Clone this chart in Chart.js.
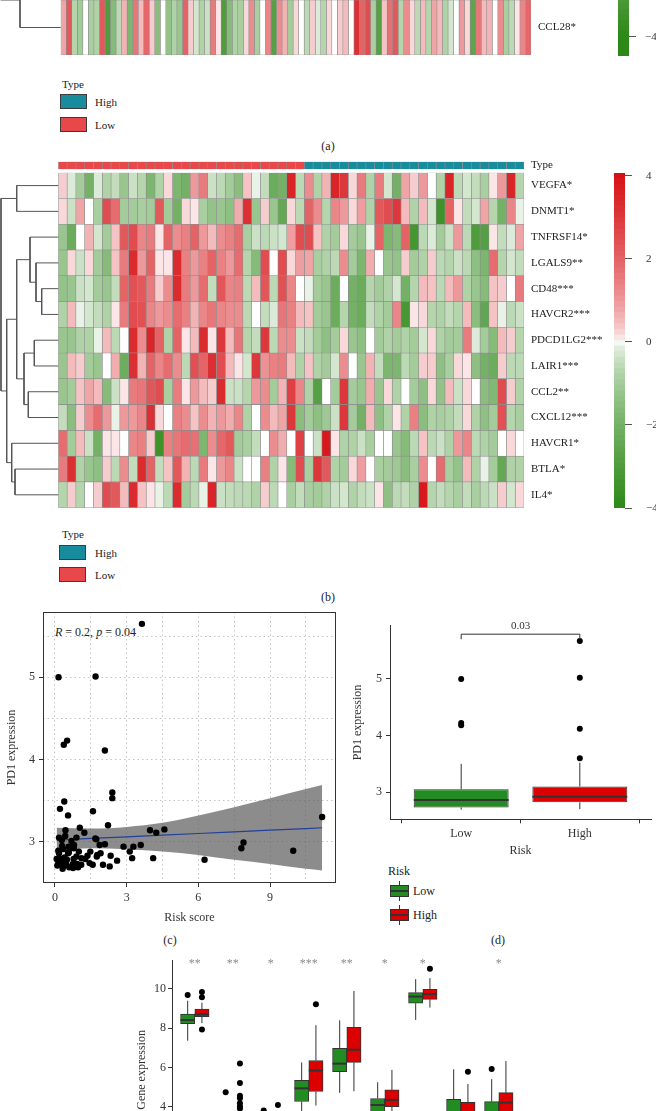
<!DOCTYPE html>
<html>
<head>
<meta charset="utf-8">
<script src="https://cdn.jsdelivr.net/npm/chart.js@4.4.0/dist/chart.umd.min.js"></script>
<style>
body{margin:0;width:656px;height:1111px;overflow:hidden;background:#fff;position:relative;font-family:'Liberation Serif','DejaVu Serif',serif;color:#222}
canvas{position:absolute}
.t{position:absolute;white-space:nowrap;font-size:11px;line-height:1;transform:translateY(-50%)}
.c{position:absolute;white-space:nowrap;font-size:12px;line-height:1;transform:translate(-50%,-50%)}
.key{position:absolute;box-sizing:border-box;border:1px solid #3c3c3c}
.ln{position:absolute;background:#333}
</style>
</head>
<body>

<!-- (a) legend -->
<div class="t" style="left:62px;top:84px">Type</div>
<div class="key" style="left:60px;top:94px;width:27px;height:15px;background:#188b9c"></div>
<div class="t" style="left:95px;top:102px">High</div>
<div class="key" style="left:60px;top:117px;width:27px;height:15px;background:#e84849"></div>
<div class="t" style="left:95px;top:125px">Low</div>
<div class="c" style="left:328px;top:146px">(a)</div>

<!-- (b) legend -->
<div class="t" style="left:62px;top:534px">Type</div>
<div class="key" style="left:59px;top:545px;width:27px;height:15px;background:#188b9c"></div>
<div class="t" style="left:95px;top:553px">High</div>
<div class="key" style="left:59px;top:567px;width:27px;height:15px;background:#e84849"></div>
<div class="t" style="left:95px;top:575px">Low</div>
<div class="c" style="left:328px;top:597px">(b)</div>

<div class="t" style="left:55px;top:632px;font-size:12px"><i>R</i> = 0.2, <i>p</i> = 0.04</div>

<!-- (d) legend -->
<div class="t" style="left:388px;top:871px;font-size:12px">Risk</div>
<div class="ln" style="left:399px;top:881px;width:1px;height:20px"></div>
<div class="key" style="left:390px;top:885px;width:19px;height:12px;background:#228b22;border-color:#333"></div>
<div class="ln" style="left:390px;top:890px;width:19px;height:2px"></div>
<div class="t" style="left:413px;top:891px;font-size:12px">Low</div>
<div class="ln" style="left:399px;top:905px;width:1px;height:20px"></div>
<div class="key" style="left:390px;top:909px;width:19px;height:12px;background:#dd0000;border-color:#333"></div>
<div class="ln" style="left:390px;top:914px;width:19px;height:2px"></div>
<div class="t" style="left:413px;top:915px;font-size:12px">High</div>

<div class="c" style="left:170px;top:940px">(c)</div>
<div class="c" style="left:498px;top:940px">(d)</div>

<script>
// ---------- data ----------
// panel (a): one visible row
const ccl28 = [0.8,2.2,-0.7,-1,0,-0.9,-0.8,2.2,-3,-1.6,-0.6,0.6,-1.8,1.6,0.5,1.9,0.3,-1.5,0,-1.3,-0.8,-1.2,2,0.3,-0.3,-0.8,-0.4,1.5,0.1,-3,-1.6,-0.8,
  -0.9,0.2,1.2,-0.9,0,1.3,-2.8,1.2,0.6,-1,0.2,0,-0.6,0.3,-0.2,-0.7,0.2,0,0.3,0.5,0,3.2,2,2.5,-0.9,-2.8,0.4,1.7,2.2,-0.7,1.2,0.2,-0.6,0.5,-0.7,
  0.8,0.5,-0.8,-0.3,0,1,0.2,-2.6,1.6,0.5,0.6,0,1.2,-0.9,-0.6,0.1,1.3,1.9];

// panel (b): 13 genes x 53 samples (28 low risk, 25 high risk)
const geneLabels = ['VEGFA*','DNMT1*','TNFRSF14*','LGALS9**','CD48***','HAVCR2***','PDCD1LG2***','LAIR1***','CCL2**','CXCL12***','HAVCR1*','BTLA*','IL4*'];
const sampleType = Array(28).fill('Low').concat(Array(25).fill('High'));
const VEGFA = [0.3,-0.2,-1,-2,-0.2,-0.8,-0.5,-1.2,-0.4,-0.7,-1.8,-0.8,0.2,-1.8,-2,1,1.5,-0.4,-0.6,-1,-1.5,0.4,-0.1,-0.5,-2.2,-2,3.5,-0.6,
  1.2,-0.8,0.6,3.5,3.0,0.2,1.5,-0.8,1.5,-0.3,-2,0.8,0.3,1.0,0,-0.8,3.5,-0.6,-0.3,-0.5,-0.9,0.1,1,3.5,-0.7];
const DNMT1 = [0.2,-0.4,0.8,0,-0.9,2.5,1.8,-1,-1,-0.9,-1,2.2,-1,-2,0.2,0.1,-0.9,-1.3,-1.2,-1.4,0.7,3.2,-1.2,0.3,-1.2,-2.4,0.2,-0.6,
  2,1.2,-0.7,1.3,1,0.2,0.9,-0.8,2.2,2.5,3,0.5,-0.8,0.5,-0.3,-3.5,2,0.1,-0.5,-0.3,0.8,-0.7,-2,1.3,-0.1];
const TNFRSF14 = [-1.2,-2.2,0,0.6,-0.3,-1,0.4,2.2,2.5,1.3,1.5,0.1,2,1.2,1.4,2,1,0.5,1.2,1.4,1.8,-0.9,-0.4,-0.6,-0.4,-0.3,0.9,2.5,
  2.5,0.4,-0.8,-1,0.2,-1,-1.2,-0.1,2,-1.8,-1.6,2,-3.3,-0.6,-0.2,-1,-0.4,1,-0.6,-3,-2.8,0.1,-0.5,-0.2,0.8];
const LGALS9 = [-1.2,0.2,-0.4,0.2,-1,-1.6,0.4,1.5,3.3,1,2,0.1,0.1,3.3,1.4,1,1.4,2,1.4,1,1.8,-0.7,-1.6,2.5,0,2.5,0.2,0.9,
  0.8,-0.9,-0.8,-0.6,1.2,-1,-1.8,0.7,0,-1.2,-1.3,0.3,-1,-0.8,0.3,-0.6,-0.7,-0.4,-0.6,-1.4,-1.8,1.8,-0.7,-0.3,-0.5];
const CD48 = [-1.3,-1.2,-0.4,-0.3,-1,-1.2,-0.5,2,2.4,2.2,1.5,0.3,1.2,3.3,1.5,1,1.8,-0.5,2.3,1.3,1.4,-0.6,0.5,2.3,-0.6,2.4,1.3,0,
  -0.1,-1,-1.2,-2.2,0,-2,-2.2,-0.7,-1,-0.8,-0.3,-2,-0.7,0.5,0.4,-0.6,0.5,1,-0.8,-1.2,-1.6,0.4,0.3,0,1.5];
const HAVCR2 = [-0.8,0.5,-0.1,-0.3,-0.5,-0.8,0.1,1.5,2.5,2.4,1.3,1,1.2,1.8,1.4,0.6,1.3,1.6,1.3,1.2,1.2,-0.6,0,-0.5,-0.2,1.6,1.4,0.5,
  0.4,-1,-1.2,-2.2,-0.7,-2,-2.2,-0.5,-0.8,-1,1.3,-3.2,0.1,0.2,-0.7,-0.8,-0.5,-0.7,0.5,-1.5,-2.5,0.4,-0.1,-0.6,-0.4];
const PDCD1LG2 = [-1.2,-1.2,-0.8,-0.8,-0.1,0.5,-0.6,0,3.3,1.2,3.5,2,-0.8,2,0.1,0.5,3.3,0.1,3,0.5,1.6,-0.7,-0.5,3,-0.6,1.2,1.2,-0.4,
  -0.5,-1,-1.4,-1,0.2,-1.2,-1.4,0,-1,-0.8,-1,-0.8,-1,-0.3,0.2,-0.8,-1,-1,1.5,-0.2,-1,-1.6,0.5,0.3,-0.7];
const LAIR1 = [-1.2,0.5,0.3,-1,-1.2,0,0.7,-2.2,3.2,0.6,2,1.3,1.8,1.2,-0.6,2.4,2,3.2,2.5,0.5,0.1,-0.3,3,1.1,1.4,1.5,0.5,-0.8,
  0.4,-0.8,-1,-0.3,1.2,0,-1.2,0.6,-0.5,-1.8,-1.8,-0.6,-1,0.3,0.3,-1.4,-0.9,0.2,0.1,-1.4,-2,-2.2,0.3,-0.6,-0.6];
const CCL2 = [-1.2,-1,0.4,0.8,0.5,-1.6,-0.4,0.1,1.5,1.6,2.3,2.5,-0.9,1.5,0.1,1,0.5,0.3,3.3,-0.4,-0.4,-0.7,1,1.2,-1,0.6,2.8,1.3,
  -0.8,-2.8,0,-1,3,-1,-1.2,0.7,-1.2,0.2,-0.8,0,-1,-1.4,0.2,-1.3,0.5,-0.4,0.2,0,-1.5,-1.7,2.5,0.3,-0.8];
const CXCL12 = [-0.5,-1.5,0.3,1.2,1.8,1,-0.1,1,1,1.3,3.2,0.2,0,1.4,1.2,0.4,1.2,0.6,1,0.7,1.3,-0.8,0,1.2,0.5,0.8,3,-1.5,
  -1,-1.4,-1.1,-0.4,3,-1,-2,0.5,-1.4,-0.8,0.1,-0.8,1.4,-1.5,-0.8,-0.9,-0.8,-0.5,0.2,-0.8,-1.4,-1,2.4,-0.7,-0.9];
const HAVCR1 = [1.8,-1,0.5,-0.4,-2,0.1,0.1,0,1.3,1.4,0.3,-3.5,1.4,1.6,1.8,1.7,-1.8,1.2,1.9,2.2,-1,-0.9,-0.5,0,1.2,0.7,0,2.8,
  0,-0.4,3.8,0.1,-0.8,-0.8,-0.4,-0.9,0,0,-1.2,-1.6,-0.6,0.4,-0.6,-0.4,-0.8,1,1.3,-0.6,-0.8,-1,0,0.2,0];
const BTLA = [1.5,3.2,-0.8,-1.2,-1.4,0.3,-0.6,1.2,-0.5,3.3,2,-0.5,0.4,2.2,0.6,-0.6,1.5,0.1,1,1.3,-0.4,0,0,1.4,-0.8,0.1,-1.6,2.5,
  -0.9,3,2.2,-0.8,-1,0.2,0.9,0,-0.9,-1,-1.1,-1.5,-0.9,1.2,0,1.8,-0.9,-1.3,0.5,-0.8,-0.1,-1,-2.4,-0.8,-0.8];
const IL4 = [-0.7,0.3,-0.7,0,0.3,2.5,2.2,0.5,3.3,0.4,0.1,-0.1,-0.6,3.3,-1,-0.6,-0.1,3.5,-0.4,-0.5,-0.6,-0.6,-0.8,0.3,-0.6,0,-0.9,-0.5,
  -0.9,-1,-0.8,-0.4,-0.3,-0.8,-0.5,-0.4,0.1,-1.4,-0.6,-0.5,-0.8,3.8,-0.7,-0.5,-0.7,-0.9,-0.5,-0.9,-0.6,-0.4,0.3,-0.3,0.2];
const heatRows = [VEGFA,DNMT1,TNFRSF14,LGALS9,CD48,HAVCR2,PDCD1LG2,LAIR1,CCL2,CXCL12,HAVCR1,BTLA,IL4];

// row clustering (merge heights), leaves are row indices
const treeB = {h:57.3, c:[{h:41.6, c:[0,1]},
  {h:51.6, c:[{h:41.6, c:[{h:28.3, c:[2,{h:22.3, c:[3,{h:16.6, c:[4,5]}]}]},
                          {h:34.3, c:[{h:24, c:[6,7]},{h:30, c:[8,9]}]}]},
              {h:46.6, c:[10,{h:43.3, c:[11,12]}]}]}]};
const treeA = {h:60, c:[-3,{h:40.7, c:[-1,0]}]};
const colorTicks = [-4,-2,0,2,4];

// panel (c)
const riskScore = [3.64,0.15,1.70,0.37,0.51,2.09,2.40,2.40,0.39,0.21,1.59,0.55,2.22,1.04,0.44,1.23,3.98,4.24,4.58,11.18,
  0.17,0.43,0.90,0.69,1.69,1.73,0.29,0.80,0.57,1.87,2.09,2.87,3.28,3.59,7.89,7.80,9.97,0.35,0.14,0.17,
  0.58,0.79,1.48,1.91,1.77,1.36,2.33,3.13,3.23,0.07,0.24,0.40,0.78,1.11,1.27,4.11,6.26,2.60,0.10,0.29,
  0.35,0.32,0.75,0.84,0.93,0.76,1.45,1.58,2.01,2.29,0.48,0.60,0.14,0.42,0.97,0.20,0.50,0.65,1.00,0.90,
  0.30,1.10,0.55,1.75];
const pd1Expr = [5.65,5.00,5.01,4.18,4.23,4.11,3.60,3.53,3.49,3.40,3.37,3.32,3.20,3.17,3.14,3.11,3.14,3.11,3.15,3.30,
  3.05,3.07,3.05,3.01,3.04,3.03,3.02,2.96,2.94,2.96,2.97,2.94,2.94,2.96,2.99,2.92,2.89,2.91,2.89,2.86,
  2.87,2.92,2.88,2.86,2.84,2.83,2.83,2.88,2.80,2.79,2.79,2.81,2.79,2.80,2.79,2.80,2.78,2.77,2.71,2.73,
  2.70,2.67,2.73,2.71,2.73,2.68,2.74,2.72,2.72,2.70,2.72,2.69,2.76,2.76,2.69,2.75,2.78,2.92,2.88,2.82,
  2.95,2.72,2.86,2.82];
const fitX = [0.07,1.5,3,4.5,6,7.5,9,10.5,11.18];
const fitY = [3.02,3.04,3.06,3.08,3.10,3.12,3.14,3.16,3.17];
const fitUpper = [3.17,3.16,3.18,3.23,3.32,3.42,3.53,3.64,3.69];
const fitLower = [2.89,2.92,2.91,2.88,2.84,2.78,2.73,2.67,2.65];

// panel (d): [min, q1, median, q3, max]
const riskLevels = ['Low','High'];
const pd1Box = [[2.69,2.73,2.86,3.05,3.50],[2.70,2.82,2.92,3.10,3.52]];
const pd1Out = [[5.0,4.22,4.18],[5.67,5.02,4.12,3.60]];

// panel (e): nine genes, low / high risk
const geneGroups = ['G1','G2','G3','G4','G5','G6','G7','G8','G9'];
const geneStars = ['**','**','*','***','**','*','*','','*'];
const lowBox = [[7.36,8.23,8.41,8.72,9.40],[1.5,2.1,2.4,2.8,3.6],[0.8,1.5,1.9,2.4,3.3],[2.9,4.26,4.93,5.34,6.25],
  [4.70,5.78,6.19,6.97,8.40],[2.8,3.6,4.08,4.41,5.24],[8.42,9.27,9.61,9.81,10.5],[1.8,3.0,3.6,4.37,5.9],[1.8,2.9,3.5,4.25,5.4]];
const highBox = [[8.25,8.59,8.71,8.97,9.30],[1.6,2.2,2.6,3.0,3.7],[1.0,1.7,2.2,2.7,3.5],[4.05,4.77,5.84,6.35,8.15],
  [4.78,6.25,6.90,8.04,9.90],[3.2,4.0,4.34,4.85,5.87],[9.05,9.47,9.74,9.98,10.55],[1.9,2.9,3.5,4.22,5.15],[2.2,3.5,4.2,4.71,6.32]];
const lowOut = [[9.69],[4.73],[3.8],[],[],[],[],[],[5.91]];
const highOut = [[9.84,9.57,7.93],[6.2,5.2,4.55,4.42,4.17,4.0,3.9],[4.08],[9.22],[],[],[11.03],[5.78],[]];

// ---------- helpers ----------
Chart.defaults.font.family = "'Liberation Serif','DejaVu Serif',serif";
Chart.defaults.color = '#333';

const greenEnd = [45,137,23], redEnd = [214,18,22];
function heatColor(v) {
  const t = Math.max(-1, Math.min(1, v / 4));
  const end = t < 0 ? greenEnd : redEnd, s = Math.pow(Math.abs(t), 0.6);
  return 'rgb(' + end.map(c => Math.round(255 + (c - 255) * s)).join(',') + ')';
}
const typeColor = {High:'#188b9c', Low:'#e84849'};

function place(l, t, w, h) {
  const c = document.createElement('canvas');
  c.width = w; c.height = h;
  c.style.left = l + 'px'; c.style.top = t + 'px';
  c.style.width = w + 'px'; c.style.height = h + 'px';
  document.body.appendChild(c);
  return c;
}
const noPlugins = {legend:{display:false}, tooltip:{enabled:false}};

function heatChart(canvas, rows, labels, colorFn, pad, axisW) {
  const n = rows[0].length;
  const datasets = [];
  for (let j = 0; j < n; j++) {
    datasets.push({
      data: rows.map(() => 1),
      backgroundColor: rows.map(r => colorFn(r[j])),
      borderColor: '#8c8c8c', borderWidth: 0.6, borderSkipped: false,
      barPercentage: 1, categoryPercentage: 1
    });
  }
  return new Chart(canvas, {
    type: 'bar',
    data: {labels, datasets},
    options: {
      indexAxis: 'y', responsive: false, animation: false, layout: {padding: pad},
      plugins: noPlugins,
      scales: {
        x: {stacked: true, display: false, min: 0, max: n},
        y: {stacked: true, position: 'right',
            grid: {drawOnChartArea: false, drawTicks: true, tickLength: 7, color: 'rgba(0,0,0,0)'},
            border: {display: false},
            ticks: {padding: 0, color: '#222', font: {size: 11}}, afterFit: s => { s.width = axisW; }}
      }
    }
  });
}

function dendroSets(tree) {
  const sets = [];
  (function walk(n) {
    if (typeof n === 'number') return {h: 0, y: n};
    const a = walk(n.c[0]), b = walk(n.c[1]);
    sets.push({data: [{x:a.h,y:a.y},{x:n.h,y:a.y},{x:n.h,y:b.y},{x:b.h,y:b.y}],
      showLine: true, borderColor: '#555', borderWidth: 1, pointRadius: 0, tension: 0, clip: false});
    return {h: n.h, y: (a.y + b.y) / 2};
  })(tree);
  return sets;
}
function dendroChart(canvas, tree, xr, yr) {
  return new Chart(canvas, {
    type: 'scatter',
    data: {datasets: dendroSets(tree)},
    options: {responsive: false, animation: false, plugins: noPlugins,
      scales: {x: {display: false, reverse: true, min: xr[0], max: xr[1]},
               y: {display: false, reverse: true, min: yr[0], max: yr[1]}}}
  });
}

function colorBar(canvas, lo, hi, pad, axisW, labelPad) {
  const steps = 60, step = (hi - lo) / steps, datasets = [];
  for (let i = 0; i < steps; i++) {
    datasets.push({data: [[lo + step * i, lo + step * (i + 1) + 0.001]], backgroundColor: heatColor(lo + step * (i + 0.5)),
      borderWidth: 0, grouped: false, barPercentage: 1, categoryPercentage: 1});
  }
  return new Chart(canvas, {
    type: 'bar',
    data: {labels: [''], datasets},
    options: {responsive: false, animation: false, layout: {padding: pad}, plugins: noPlugins,
      scales: {
        x: {display: false},
        y: {position: 'right', min: lo, max: hi,
            afterBuildTicks: s => { s.ticks = colorTicks.map(value => ({value})); },
            grid: {drawOnChartArea: false, tickLength: 7, color: '#555'}, border: {display: false},
            ticks: {padding: labelPad, color: '#333', font: {size: 11}, callback: v => v < 0 ? '\u2212' + Math.abs(v) : String(v)},
            afterFit: s => { s.width = axisW; }}
      }}
  });
}

// ---------- panel (a) ----------
heatChart(place(60, -15, 560, 85), [ccl28], ['CCL28*'], heatColor, {left: 0.7, top: 15, bottom: 15}, 89);
dendroChart(place(0, -60, 62, 120), treeA, [-1.3, 60.7], [-1.591, 0.591]);
colorBar(place(604, -320, 52, 396), -4.46, 4.118, {left: 14, top: 20, bottom: 20}, 27, 9);

// ---------- panel (b) ----------
heatChart(place(58, 150, 560, 31), [sampleType], ['Type'], v => typeColor[v], {left: 0.3, top: 11.7, bottom: 11.7}, 94);
heatChart(place(58, 160, 560, 360), heatRows, geneLabels, heatColor, {left: 0.3, top: 12.7, bottom: 12.3}, 94);
dendroChart(place(0, 172, 59, 337), treeB, [-0.7, 58.3], [-0.527, 12.55]);
colorBar(place(604, 150, 52, 380), -4, 4.07, {left: 10, top: 23, bottom: 22}, 31, 14);

// ---------- panel (c) ----------
const framePlugin = {
  id: 'frame',
  afterDatasetsDraw(chart) {
    const {ctx, chartArea: a} = chart;
    ctx.save(); ctx.strokeStyle = '#333'; ctx.lineWidth = 1;
    ctx.strokeRect(a.left + 0.5, a.top + 0.5, a.width - 1, a.height - 1);
    ctx.restore();
  }
};
const dotGrid = major => ({color: '#c4c4c4', tickLength: 4, tickColor: c => major(c.tick.value) ? '#333' : 'rgba(0,0,0,0)'});
new Chart(place(0, 600, 340, 330), {
  type: 'scatter',
  data: {datasets: [
    {data: riskScore.map((x, i) => ({x, y: pd1Expr[i]})), backgroundColor: '#000', borderWidth: 0, pointRadius: 3.2, order: 0},
    {data: fitX.map((x, i) => ({x, y: fitY[i]})), showLine: true, borderColor: '#23409a', borderWidth: 1.2, pointRadius: 0, order: 1},
    {data: fitX.map((x, i) => ({x, y: fitUpper[i]})), showLine: true, borderColor: 'rgba(0,0,0,0)', pointRadius: 0,
      cubicInterpolationMode: 'monotone', fill: '+1', backgroundColor: 'rgba(95,95,95,0.72)', order: 2},
    {data: fitX.map((x, i) => ({x, y: fitLower[i]})), showLine: true, borderColor: 'rgba(0,0,0,0)', pointRadius: 0,
      cubicInterpolationMode: 'monotone', order: 3}
  ]},
  options: {
    responsive: false, animation: false, layout: {padding: {top: 12, right: 2}}, plugins: noPlugins,
    scales: {
      x: {min: -0.5, max: 11.76,
          afterBuildTicks: s => { s.ticks = [0,1.5,3,4.5,6,7.5,9,10.5].map(value => ({value})); },
          ticks: {autoSkip: false, maxRotation: 0, padding: 4, font: {size: 12}, callback: v => v % 3 === 0 ? String(v) : ''},
          grid: dotGrid(v => v % 3 === 0), border: {display: false, dash: [1.5, 3]},
          title: {display: true, text: 'Risk score', font: {size: 12}, padding: {bottom: 4.8}},
          afterFit: s => { s.height = 47; }},
      y: {min: 2.498, max: 5.794,
          afterBuildTicks: s => { s.ticks = [2.5,3,3.5,4,4.5,5,5.5].map(value => ({value})); },
          ticks: {autoSkip: false, padding: 4, font: {size: 12}, callback: v => Number.isInteger(v) ? String(v) : ''},
          grid: dotGrid(v => Number.isInteger(v)), border: {display: false, dash: [1.5, 3]},
          title: {display: true, text: 'PD1 expression', font: {size: 12}, padding: {top: 4.8}},
          afterFit: s => { s.width = 43; }}
    }
  },
  plugins: [framePlugin]
});

// ---------- boxplot helpers ----------
function drawBoxParts(chart, part) {
  const {ctx} = chart, y = chart.scales.y;
  chart.data.datasets.forEach((ds, i) => {
    if (!ds.stats) return;
    chart.getDatasetMeta(i).data.forEach((bar, j) => {
      const [lo, q1, med, q3, hi] = ds.stats[j];
      const {x, width} = bar.getProps(['x', 'width'], true);
      ctx.save(); ctx.strokeStyle = '#333'; ctx.beginPath();
      if (part === 'whisker') {
        ctx.lineWidth = 1;
        ctx.moveTo(x, y.getPixelForValue(hi)); ctx.lineTo(x, y.getPixelForValue(q3));
        ctx.moveTo(x, y.getPixelForValue(q1)); ctx.lineTo(x, y.getPixelForValue(lo));
      } else {
        ctx.lineWidth = 2;
        ctx.moveTo(x - width / 2, y.getPixelForValue(med)); ctx.lineTo(x + width / 2, y.getPixelForValue(med));
      }
      ctx.stroke(); ctx.restore();
    });
  });
}
const boxPlugin = {
  id: 'boxParts',
  beforeDatasetsDraw: c => drawBoxParts(c, 'whisker'),
  afterDatasetsDraw: c => drawBoxParts(c, 'median')
};
function boxSet(stats, xs, color, barPct) {
  return {type: 'bar', stats, data: stats.map((s, i) => ({x: xs[i], y: [s[1], s[3]]})),
    backgroundColor: color, borderColor: '#333', borderWidth: 1, borderSkipped: false,
    grouped: false, barPercentage: barPct, categoryPercentage: 1, order: 1};
}
function outlierSet(outs, xs) {
  const pts = [];
  outs.forEach((arr, i) => arr.forEach(v => pts.push({x: xs[i], y: v})));
  return {type: 'scatter', data: pts, backgroundColor: '#000', borderWidth: 0, pointRadius: 3, order: 0};
}
const axisGrid = {drawOnChartArea: false, tickLength: 4, color: '#333'};

// ---------- panel (d) ----------
const bracketPlugin = {
  id: 'bracket',
  afterDraw(chart) {
    const {ctx, scales: {x, y}} = chart;
    const x1 = x.getPixelForValue(1), x2 = x.getPixelForValue(2);
    const yb = y.getPixelForValue(5.79), yt = y.getPixelForValue(5.70);
    ctx.save(); ctx.strokeStyle = '#333'; ctx.lineWidth = 1; ctx.beginPath();
    ctx.moveTo(x1, yt); ctx.lineTo(x1, yb); ctx.lineTo(x2, yb); ctx.lineTo(x2, yt); ctx.stroke();
    ctx.fillStyle = '#333'; ctx.font = "11px 'Liberation Serif', serif"; ctx.textAlign = 'center'; ctx.textBaseline = 'bottom';
    ctx.fillText('0.03', (x1 + x2) / 2, yb - 3);
    ctx.restore();
  }
};
new Chart(place(330, 610, 326, 250), {
  type: 'bar',
  data: {datasets: [
    outlierSet(pd1Out, [1, 2]),
    boxSet([pd1Box[0]], [1], '#228b22', 0.8),
    boxSet([pd1Box[1]], [2], '#dd0000', 0.8)
  ]},
  options: {
    responsive: false, animation: false, layout: {padding: {top: 15.7, right: 5}}, plugins: noPlugins,
    scales: {
      x: {type: 'linear', offset: false, min: 0.4, max: 2.6,
          afterBuildTicks: s => { s.ticks = [1, 2].map(value => ({value})); },
          ticks: {padding: 3, font: {size: 12}, callback: v => riskLevels[v - 1]},
          grid: axisGrid, border: {color: '#333'},
          title: {display: true, text: 'Risk', font: {size: 12}, padding: {bottom: 1.8}},
          afterFit: s => { s.height = 40.7; }},
      y: {min: 2.52, max: 5.94,
          afterBuildTicks: s => { s.ticks = [3, 4, 5].map(value => ({value})); },
          ticks: {padding: 4, font: {size: 12}},
          grid: axisGrid, border: {color: '#333'},
          title: {display: true, text: 'PD1 expression', font: {size: 12}, padding: {top: 20.8}},
          afterFit: s => { s.width = 60; }}
    }
  },
  plugins: [boxPlugin, bracketPlugin]
});

// ---------- panel (e) ----------
const lowX = geneGroups.map((g, i) => i + 1 - 0.1875);
const highX = geneGroups.map((g, i) => i + 1 + 0.1875);
const starPlugin = {
  id: 'stars',
  afterDraw(chart) {
    const {ctx, scales: {x, y}} = chart;
    ctx.save(); ctx.fillStyle = '#8a8a8a'; ctx.font = "12px 'Liberation Serif', serif";
    ctx.textAlign = 'center'; ctx.textBaseline = 'middle';
    geneStars.forEach((s, i) => ctx.fillText(s, x.getPixelForValue(i + 1), y.getPixelForValue(11.3)));
    ctx.restore();
  }
};
new Chart(place(120, 950, 420, 260), {
  type: 'bar',
  data: {datasets: [
    outlierSet(lowOut, lowX), outlierSet(highOut, highX),
    boxSet(lowBox, lowX, '#228b22', 1),
    boxSet(highBox, highX, '#dd0000', 1)
  ]},
  options: {
    responsive: false, animation: false, layout: {padding: {top: 10.7, right: 18.4, bottom: 30.9}}, plugins: noPlugins,
    scales: {
      x: {type: 'linear', offset: false, display: false, min: 0.4, max: 9.6},
      y: {min: 0.3, max: 11.44,
          afterBuildTicks: s => { s.ticks = [2, 4, 6, 8, 10].map(value => ({value})); },
          ticks: {padding: 2, font: {size: 12}},
          grid: axisGrid, border: {color: '#333'},
          title: {display: true, text: 'Gene expression', font: {size: 12}, padding: {top: 14.8}},
          afterFit: s => { s.width = 52; }}
    }
  },
  plugins: [boxPlugin, starPlugin]
});
</script>
</body>
</html>
